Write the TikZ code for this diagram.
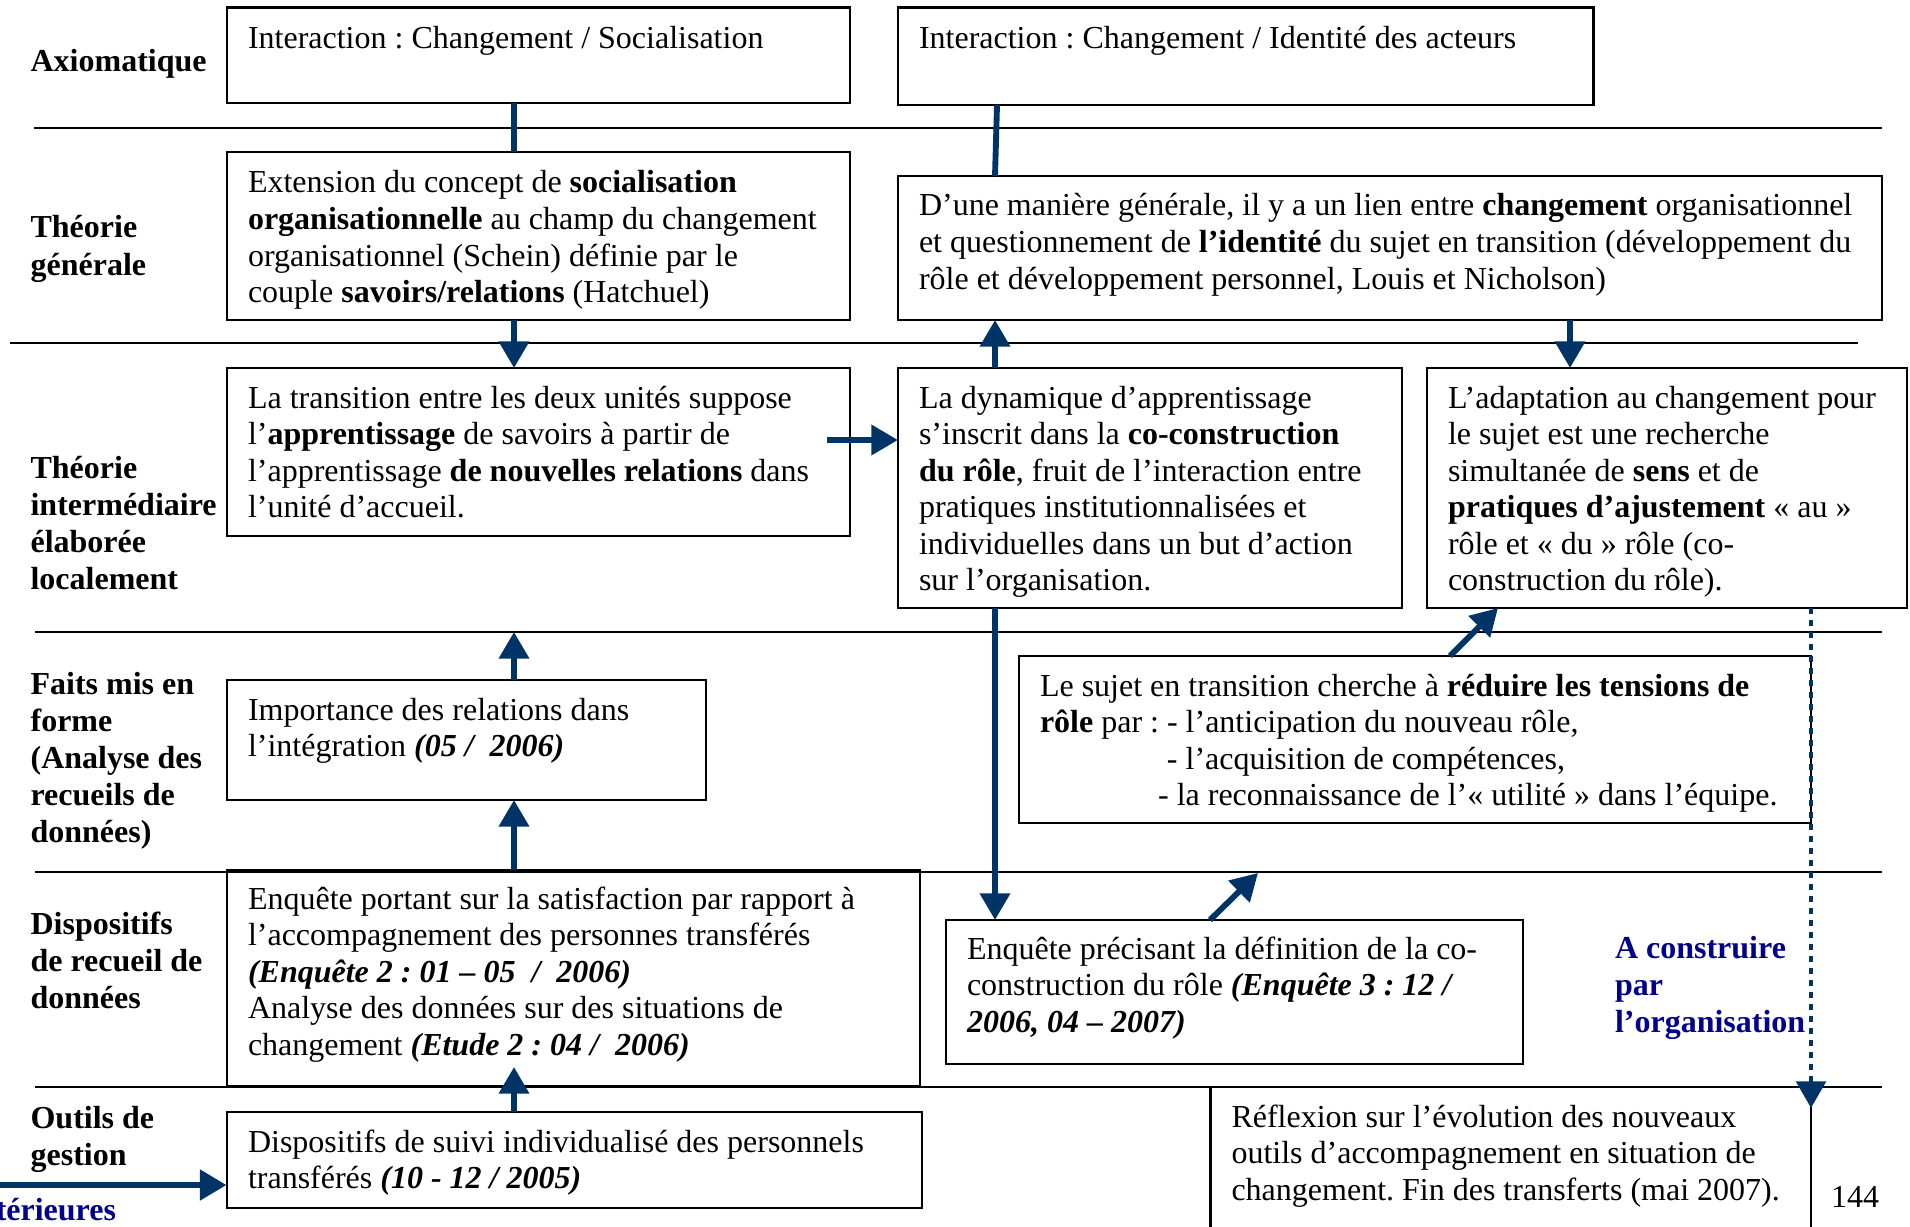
\documentclass[tikz,border=0pt]{standalone}
\usepackage{fontspec}
\setmainfont{Liberation Serif}
\usetikzlibrary{arrows.meta,fit,calc}
\definecolor{arr}{RGB}{0,51,102}
\definecolor{orgblue}{RGB}{0,0,140}
\newcommand\myst{\rule{0pt}{12pt}}
\frenchspacing
\begin{document}
\begin{tikzpicture}[x=0.375pt,y=-0.375pt,
 bx/.style={draw=black,line width=0.8pt,inner sep=0pt,outer sep=0pt},
 txt/.style={anchor=north west,inner sep=0pt,outer sep=0pt,align=left,font=\fontsize{12}{13.7}\selectfont},
 lab/.style={anchor=north west,inner sep=0pt,outer sep=0pt,align=left,font=\fontsize{12}{13.9}\selectfont\bfseries},
 hsep/.style={line width=1.1pt},
 conn/.style={draw=arr,line width=2.2pt},
 arrw/.style={conn,-{Triangle[length=10pt,width=11pt]}},
 dotarr/.style={arrw,line width=1.7pt,dash pattern=on 2.4pt off 2.1pt},
]
\useasboundingbox (0,0) rectangle (1910,1226);
\clip (0,0) rectangle (1910,1226);

% separators
\draw[hsep] (34,128) -- (1882,128);
\draw[hsep] (10,343) -- (1858,343);
\draw[hsep] (35,632) -- (1882,632);
\draw[hsep] (35,872) -- (1882,872);
\draw[hsep] (35,1087) -- (1882,1087);

% left labels
\node[lab] (lax) at (30.6,40) {\myst Axiomatique};
\node[lab] (ltg) at (30.6,206) {\myst Théorie\\générale};
\node[lab] (lti) at (30.6,446) {\myst Théorie\\intermédiaire\\élaborée\\localement};
\node[lab] (lfm) at (30.6,662) {\myst Faits mis en\\forme\\(Analyse des\\recueils de\\données)};
\node[lab] (ldr) at (30.6,902) {\myst Dispositifs\\de recueil de\\données};
\node[lab] (log) at (30.6,1096) {\myst Outils de\\gestion};

% boxes
\node[bx,fit={(226.6,7.5)(850,103)}] (a1) {};
\node[bx,fit={(898,7.5)(1593.5,105)}] (a2) {};
\node[bx,fit={(226.6,152)(850,320)}] (g1) {};
\node[bx,fit={(898,176)(1882,320)}] (g2) {};
\node[bx,fit={(226.6,368)(850,536)}] (i1) {};
\node[bx,fit={(898,368)(1402,608)}] (i2) {};
\node[bx,fit={(1427,368)(1907,608)}] (i3) {};
\node[bx,fit={(226.6,680)(706,800)}] (f1) {};
\node[bx,fit={(1019,656)(1811,823)}] (f2) {};
\node[bx,fit={(226.6,870)(920,1086)}] (d1) {};
\node[bx,fit={(946,920)(1522.6,1064)}] (d2) {};
\node[bx,fit={(226.6,1112)(921.6,1208)}] (o1) {};
\node[bx,fit={(1210.5,1087)(1811,1300)}] (r) {};

% texts
\node[txt] (ta1) at (248,17) {\myst Interaction : Changement / Socialisation};
\node[txt] (ta2) at (919,17) {\myst Interaction : Changement / Identité des acteurs};
\node[txt] (tg1) at (248,161) {\myst Extension du concept de \textbf{socialisation}\\
\textbf{organisationnelle} au champ du changement\\
organisationnel (Schein) définie par le\\
couple \textbf{savoirs/relations} (Hatchuel)};
\node[txt] (tg2) at (919,184) {\myst D’une manière générale, il y a un lien entre \textbf{changement} organisationnel\\
et questionnement de \textbf{l’identité} du sujet en transition (développement du\\
rôle et développement personnel, Louis et Nicholson)};
\node[txt] (ti1) at (248,376) {\myst La transition entre les deux unités suppose\\
l’\textbf{apprentissage} de savoirs à partir de\\
l’apprentissage \textbf{de nouvelles relations} dans\\
l’unité d’accueil.};
\node[txt] (ti2) at (919,376) {\myst La dynamique d’apprentissage\\
s’inscrit dans la \textbf{co-construction}\\
\textbf{du rôle}, fruit de l’interaction entre\\
pratiques institutionnalisées et\\
individuelles dans un but d’action\\
sur l’organisation.};
\node[txt] (ti3) at (1448,376) {\myst L’adaptation au changement pour\\
le sujet est une recherche\\
simultanée de \textbf{sens} et de\\
\textbf{pratiques d’ajustement} « au »\\
rôle et « du » rôle (co-\\
construction du rôle).};
\node[txt] (tf1) at (248,688) {\myst Importance des relations dans\\
l’intégration \textbf{\textit{(05 /\ \ 2006)}}};
\node[txt] (tf2) at (1040,664) {\myst Le sujet en transition cherche à \textbf{réduire les tensions de}\\
\textbf{rôle} par : - l’anticipation du nouveau rôle,\\
\hspace*{47.6pt}- l’acquisition de compétences,\\
\hspace*{44.3pt}- la reconnaissance de l’« utilité » dans l’équipe.};
\node[txt] (td1) at (248,877) {\myst Enquête portant sur la satisfaction par rapport à\\
l’accompagnement des personnes transférés\\
\textbf{\textit{(Enquête 2 : 01 – 05\ \ /\ \ 2006)}}\\
Analyse des données sur des situations de\\
changement \textbf{\textit{(Etude 2 : 04 /\ \ 2006)}}};
\node[txt] (td2) at (967,927) {\myst Enquête précisant la définition de la co-\\
construction du rôle \textbf{\textit{(Enquête 3 : 12 /}}\\
\textbf{\textit{2006, 04 – 2007)}}};
\node[txt] (to1) at (248,1120) {\myst Dispositifs de suivi individualisé des personnels\\
transférés \textbf{\textit{(10 - 12 / 2005)}}};
\node[txt] (tr) at (1231.5,1095) {\myst Réflexion sur l’évolution des nouveaux\\
outils d’accompagnement en situation de\\
changement. Fin des transferts (mai 2007).};
\node[lab,text=orgblue] (tac) at (1615,926) {\myst A construire\\par\\l’organisation};
\node[txt] (tpg) at (1831,1175) {\myst 144};
\node[inner sep=0pt,outer sep=0pt,anchor=base east,font=\fontsize{12}{13.7}\selectfont\bfseries,text=orgblue] (tex) at (116,1220) {térieures};

% connectors
\coordinate (t8) at (514,632);
\coordinate (t12) at (1258,873);
\coordinate (h6) at ($(i1.east)+(-23,-12)$);
\coordinate (t14) at (0,1185);

\draw[conn] ($(a1.south west)+(287.4,0)$) -- ($(g1.north west)+(287.4,0)$);
\draw[conn] ($(a2.south west)+(99,0)$) -- ($(g2.north west)+(97,0)$);
\draw[arrw] ($(g1.south west)+(287.4,0)$) -- ($(i1.north west)+(287.4,0)$);
\draw[arrw] ($(i2.north west)+(97,0)$) -- ($(g2.south west)+(97,0)$);
\draw[arrw] ($(g2.south west)+(672,0)$) -- ($(i3.north west)+(143,0)$);
\draw[arrw] (h6) -- (h6 -| i2.west);
\draw[arrw] ($(i2.south west)+(97,0)$) -- ($(d2.north west)+(49,0)$);
\draw[arrw] ($(f1.north west)+(287.4,0)$) -- (t8);
\draw[arrw] ($(d1.north west)+(287.4,0)$) -- ($(f1.south west)+(287.4,0)$);
\draw[arrw] ($(o1.north west)+(287.4,0)$) -- ($(d1.south west)+(287.4,-19)$);
\draw[arrw] ($(f2.north west)+(431,0)$) -- ($(i3.south west)+(71,0)$);
\draw[arrw] ($(d2.north west)+(264,0)$) -- (t12);
\draw[dotarr] ($(i3.south west)+(384,0)$) -- ($(r.north east)+(0,21)$);
\draw[arrw,line width=2.5pt] (t14) -- (t14 -| o1.west);
\end{tikzpicture}
\end{document}
